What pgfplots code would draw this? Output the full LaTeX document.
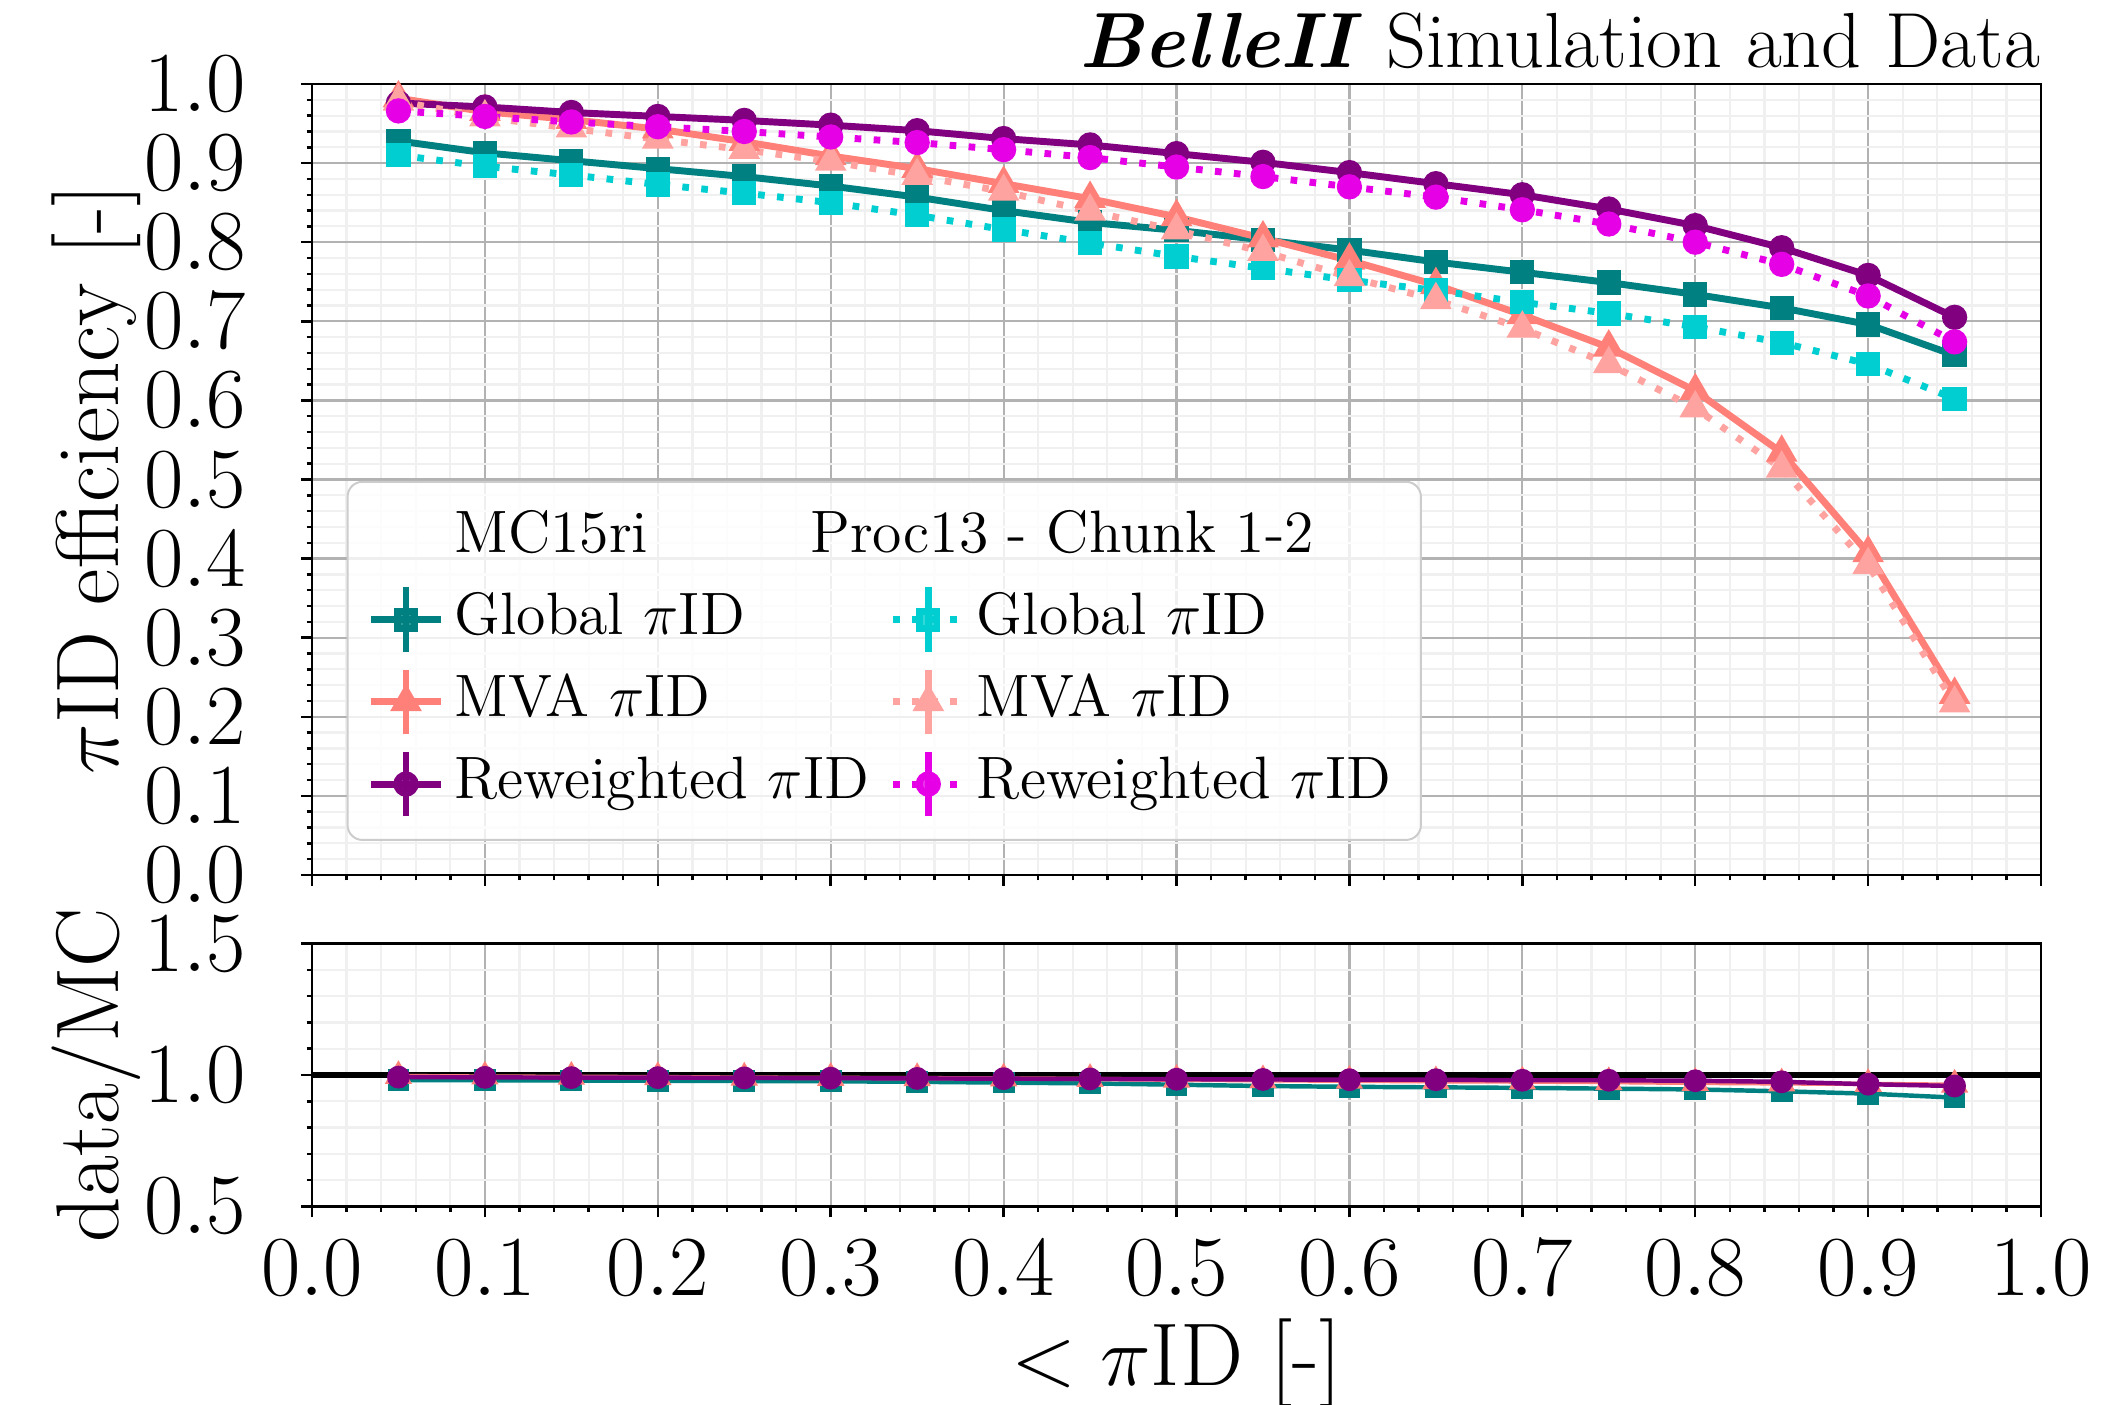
\documentclass[border=0pt]{standalone}
\usepackage{pgfplots}
\usepackage{pgfplotstable}
\pgfplotsset{compat=1.18}

\definecolor{glbmc}{HTML}{008080}
\definecolor{glbdata}{HTML}{00CED1}
\definecolor{mvamc}{HTML}{FF8078}
\definecolor{mvadata}{HTML}{FFA3A0}
\definecolor{rewmc}{HTML}{800080}
\definecolor{rewdata}{HTML}{E600E6}

% efficiency vs cut on pion ID, MC and data
\pgfplotstableread{
x     gmc   gdata mmc   mdata rmc   rdata
0.05  0.928 0.910 0.982 0.978 0.976 0.966
0.10  0.913 0.896 0.965 0.958 0.971 0.959
0.15  0.903 0.885 0.955 0.944 0.964 0.952
0.20  0.893 0.873 0.943 0.930 0.959 0.946
0.25  0.883 0.862 0.927 0.917 0.954 0.940
0.30  0.871 0.850 0.909 0.902 0.948 0.933
0.35  0.857 0.834 0.893 0.884 0.941 0.926
0.40  0.840 0.816 0.874 0.864 0.931 0.917
0.45  0.825 0.799 0.855 0.839 0.923 0.907
0.50  0.815 0.782 0.832 0.815 0.912 0.895
0.55  0.803 0.767 0.805 0.788 0.901 0.883
0.60  0.790 0.752 0.777 0.756 0.888 0.870
0.65  0.775 0.739 0.746 0.727 0.874 0.857
0.70  0.762 0.724 0.708 0.691 0.860 0.841
0.75  0.749 0.710 0.667 0.646 0.842 0.823
0.80  0.734 0.693 0.612 0.590 0.821 0.800
0.85  0.717 0.673 0.534 0.514 0.793 0.772
0.90  0.696 0.646 0.407 0.392 0.758 0.732
0.95  0.657 0.602 0.228 0.217 0.705 0.674
}\topdata

% data/MC ratios
\pgfplotstableread{
x     g     m     r
0.05  0.981 0.996 0.992
0.10  0.980 0.994 0.991
0.15  0.979 0.993 0.990
0.20  0.978 0.992 0.990
0.25  0.977 0.990 0.989
0.30  0.976 0.989 0.988
0.35  0.974 0.988 0.987
0.40  0.971 0.987 0.986
0.45  0.968 0.985 0.985
0.50  0.963 0.982 0.984
0.55  0.958 0.980 0.983
0.60  0.955 0.978 0.982
0.65  0.953 0.976 0.982
0.70  0.951 0.975 0.980
0.75  0.948 0.973 0.980
0.80  0.945 0.970 0.978
0.85  0.938 0.968 0.974
0.90  0.929 0.966 0.965
0.95  0.914 0.963 0.958
}\ratiodata

\pgfplotsset{
  mcline/.style={solid, line width=1.4pt, mark options={solid}},
  dataline/.style={dash pattern=on 1.35pt off 2.5pt, line width=1.4pt, mark options={solid}},
  gmc/.style={mcline, color=glbmc, mark=square*, mark size=1.75pt},
  gdata/.style={dataline, color=glbdata, mark=square*, mark size=1.75pt},
  mmc/.style={mcline, color=mvamc, mark=triangle*, mark size=2.3pt},
  mdata/.style={dataline, color=mvadata, mark=triangle*, mark size=2.3pt},
  rmc/.style={mcline, color=rewmc, mark=*, mark size=1.85pt},
  rdata/.style={dataline, color=rewdata, mark=*, mark size=1.85pt},
  panel/.style={
    scale only axis, width=12.286cm,
    xmin=0, xmax=1, xtick distance=0.1, minor x tick num=4,
    grid=both,
    major grid style={draw=black!30, line width=0.45pt},
    minor grid style={draw=black!6, line width=0.45pt},
    tick align=outside, tick pos=left,
    major tick length=2.2pt, minor tick length=1.1pt,
    tick style={black, line width=0.5pt},
    axis line style={black, line width=0.5pt},
    tick label style={font=\fontsize{18}{20}\selectfont},
    xticklabel style={anchor=north, inner sep=0pt, yshift=-4.5pt},
    yticklabel style={anchor=east, inner sep=0pt, xshift=-11pt},
    x tick label style={/pgf/number format/fixed, /pgf/number format/fixed zerofill, /pgf/number format/precision=1},
    y tick label style={/pgf/number format/fixed, /pgf/number format/fixed zerofill, /pgf/number format/precision=1},
    every axis y label/.style={at={(axis description cs:-0.125,0.5)}, rotate=90, anchor=center, font=\fontsize{18}{20}\selectfont},
    every axis x label/.style={at={(axis description cs:0.5,-0.598)}, anchor=center, font=\fontsize{18}{20}\selectfont},
  },
}

\begin{document}
\begin{tikzpicture}
\path[use as bounding box] (-2.217cm,-3.762cm) rectangle (12.783cm,6.217cm);

\begin{axis}[panel, name=main, at={(0,0)}, anchor=south west,
  height=5.62cm,
  ymin=0, ymax=1, ytick distance=0.1, minor y tick num=4,
  xticklabels={},
  ylabel={$\pi$ID efficiency [-]},
  title={\textbf{\textit{BelleII}} Simulation and Data},
  every axis title/.style={at={(1,1)}, anchor=base east, inner sep=0pt, yshift=3.4pt, font=\fontsize{15.8}{19}\selectfont},
  legend columns=2, legend cell align=left,
  legend style={at={(0.02,0.043)}, anchor=south west,
    draw=black!20, rounded corners=3pt, fill=white, fill opacity=0.8,
    text opacity=1, draw opacity=1,
    font=\fontsize{12.1}{14.5}\selectfont,
    inner xsep=4pt, inner ysep=3pt, column sep=0pt,
    /tikz/every even column/.append style={column sep=2.2pt},
    nodes={inner xsep=2pt, inner ysep=2pt, text height=9.3pt, text depth=3.3pt}},
  legend image code/.code={
    \draw[#1, mark=none] (0cm,0cm) -- (0.5cm,0cm);
    \draw[#1, mark=none, solid] (0.25cm,-0.23cm) -- (0.25cm,0.23cm);
    \draw[#1] plot coordinates {(0.25cm,0cm)};
  },
]
  \addplot[gmc, forget plot] table[x=x, y=gmc] {\topdata};
  \addplot[mmc, forget plot] table[x=x, y=mmc] {\topdata};
  \addplot[rmc, forget plot] table[x=x, y=rmc] {\topdata};
  \addplot[gdata, forget plot] table[x=x, y=gdata] {\topdata};
  \addplot[mdata, forget plot] table[x=x, y=mdata] {\topdata};
  \addplot[rdata, forget plot] table[x=x, y=rdata] {\topdata};

  \addlegendimage{empty legend}
  \addlegendentry{MC15ri}
  \addlegendimage{empty legend}
  \addlegendentry{\makebox[0pt][l]{\hspace*{-33.7pt}Proc13 - Chunk 1-2}}
  \addlegendimage{gmc}
  \addlegendentry{Global $\pi$ID}
  \addlegendimage{gdata}
  \addlegendentry{Global $\pi$ID}
  \addlegendimage{mmc}
  \addlegendentry{MVA $\pi$ID}
  \addlegendimage{mdata}
  \addlegendentry{MVA $\pi$ID}
  \addlegendimage{rmc}
  \addlegendentry{Reweighted $\pi$ID}
  \addlegendimage{rdata}
  \addlegendentry{Reweighted $\pi$ID}
\end{axis}

\begin{axis}[panel, name=ratio, at={(0,-0.488cm)}, anchor=north west,
  height=1.867cm,
  ymin=0.5, ymax=1.5, ytick={0.5,1.0,1.5}, minor y tick num=4,
  xlabel={$<\pi$ID [-]},
  ylabel={data/MC},
]
  \addplot[black, line width=1.3pt, forget plot] coordinates {(0,1) (1,1)};
  \addplot[gmc, line width=0.9pt, forget plot] table[x=x, y=g] {\ratiodata};
  \addplot[mmc, line width=0.9pt, forget plot] table[x=x, y=m] {\ratiodata};
  \addplot[rmc, line width=0.9pt, forget plot] table[x=x, y=r] {\ratiodata};
\end{axis}
\end{tikzpicture}
\end{document}
